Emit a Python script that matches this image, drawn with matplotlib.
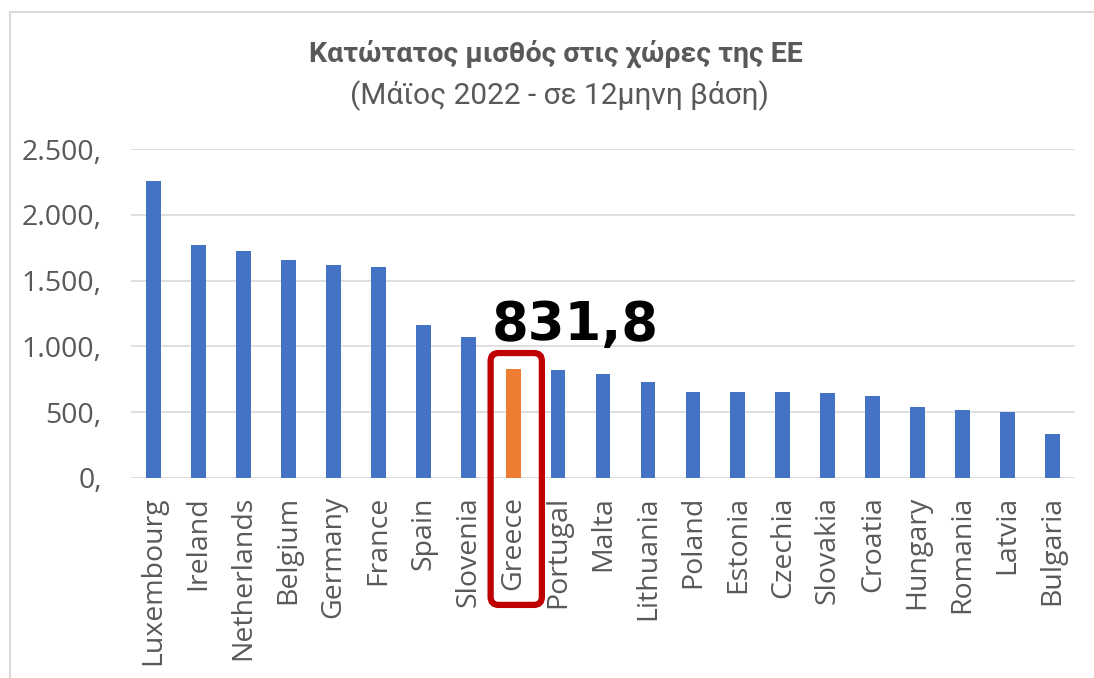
import matplotlib
matplotlib.use('Agg')
import matplotlib.pyplot as plt
from matplotlib.patches import FancyBboxPatch, Rectangle

countries = ['Luxembourg', 'Ireland', 'Netherlands', 'Belgium', 'Germany', 'France',
             'Spain', 'Slovenia', 'Greece', 'Portugal', 'Malta', 'Lithuania', 'Poland',
             'Estonia', 'Czechia', 'Slovakia', 'Croatia', 'Hungary', 'Romania', 'Latvia',
             'Bulgaria']
wages = [2256.95, 1774.50, 1725.00, 1658.11, 1621.00, 1603.12, 1166.67, 1074.43,
         831.83, 822.50, 792.30, 730.00, 654.92, 654.00, 652.22, 646.00, 623.93,
         541.80, 515.24, 500.00, 332.34]
yticks = [0, 500, 1000, 1500, 2000, 2500]
ytick_labels = ['0,', '500,', '1.000,', '1.500,', '2.000,', '2.500,']
highlight = 'Greece'
highlight_label = '831,8'

BLUE = '#4472C4'
ORANGE = '#ED7D31'
GREY = '#595959'

fig = plt.figure(figsize=(10.94, 6.78), dpi=100)
ax = fig.add_axes([0.1197, 0.295, 0.863, 0.485])

colors = [ORANGE if c == highlight else BLUE for c in countries]
x = list(range(len(countries)))
ax.bar(x, wages, width=0.33, color=colors, zorder=3)

ax.set_xlim(-0.5, len(countries) - 0.5)
ax.set_ylim(0, 2500)
ax.set_yticks(yticks)
ax.set_yticklabels(ytick_labels, fontsize=20.5, color=GREY, family='Open Sans')
ax.set_xticks(x)
ax.set_xticklabels(countries, rotation=90, fontsize=20.5, color=GREY, family='Open Sans')
ax.tick_params(length=0)
ax.tick_params(axis='y', pad=21)
ax.tick_params(axis='x', pad=13)
ax.grid(axis='y', color='#D9D9D9', linewidth=1.2, zorder=0)
for s in ax.spines.values():
    s.set_visible(False)

# red frame around the highlighted bar (rounded corners)
gi = countries.index(highlight)
px_x = (len(countries)) / (0.863 * 1094)
px_y = 2500 / (0.485 * 678)
box = FancyBboxPatch((gi - 0.5, -965), 1.14, 1915,
                     boxstyle='round,pad=0,rounding_size=%f' % (8 * px_x),
                     mutation_aspect=px_y / px_x,
                     fill=False, edgecolor='#C00000', linewidth=4.5,
                     clip_on=False, zorder=5)
ax.add_patch(box)
ax.text(gi + 1.38, wages[gi] + 330, highlight_label, ha='center', va='center',
        fontsize=38, fontweight='bold', color='black', family='DejaVu Sans')

fig.text(0.508, 0.921, 'Κατώτατος μισθός στις χώρες της ΕΕ', ha='center', va='center',
         fontsize=20.5, fontweight='bold', color=GREY, family='Roboto')
fig.text(0.511, 0.859, '(Μάϊος 2022 - σε 12μηνη βάση)', ha='center', va='center',
         fontsize=21.5, color=GREY, family='Roboto')

# outer chart frame
fig.patches.append(Rectangle((10 / 1094, -0.1), 1.2, (678 - 12) / 678 + 0.1,
                             transform=fig.transFigure, fill=False,
                             edgecolor='#D9D9D9', linewidth=1.5))

fig.savefig('out.png', dpi=100)
